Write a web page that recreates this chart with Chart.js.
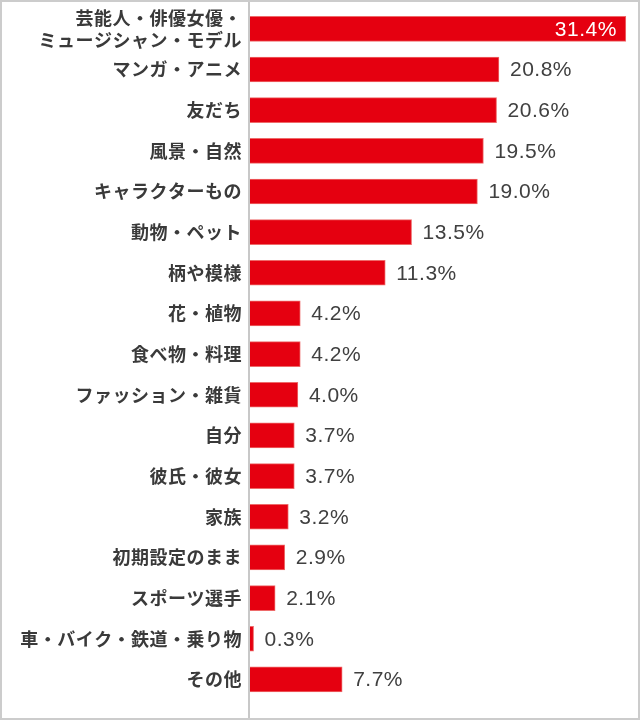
<!DOCTYPE html>
<html><head><meta charset="utf-8">
<script src="https://cdn.jsdelivr.net/npm/chart.js@4"></script>
<style>
html,body{margin:0;padding:0;background:#fff;}
#wrap{width:640px;height:720px;box-sizing:border-box;border:2px solid #cccccc;position:relative;}
canvas{display:block;}
</style></head><body>
<div id="wrap"><canvas id="c" width="636" height="716"></canvas></div>
<script>
const categories = [
  ['芸能人・俳優女優・','ミュージシャン・モデル'],
  'マンガ・アニメ','友だち','風景・自然','キャラクターもの','動物・ペット','柄や模様',
  '花・植物','食べ物・料理','ファッション・雑貨','自分','彼氏・彼女','家族',
  '初期設定のまま','スポーツ選手','車・バイク・鉄道・乗り物','その他'
];
const values = [31.4,20.8,20.6,19.5,19.0,13.5,11.3,4.2,4.2,4.0,3.7,3.7,3.2,2.9,2.1,0.3,7.7];
const valueLabels = values.map(v => v.toFixed(1) + '%');

const spacingPlugin = {
  id:'spacing',
  beforeDraw(chart){ chart.ctx.letterSpacing = '0.5px'; },
  beforeDatasetsDraw(chart){
    const ctx = chart.ctx, ca = chart.chartArea;
    ctx.save();
    ctx.strokeStyle = '#c8c8c8';
    ctx.lineWidth = 2;
    ctx.beginPath();
    ctx.moveTo(ca.left - 1, 0);
    ctx.lineTo(ca.left - 1, chart.height);
    ctx.stroke();
    ctx.restore();
  },
  afterDatasetsDraw(chart){
    const ctx = chart.ctx;
    const meta = chart.getDatasetMeta(0);
    ctx.save();
    ctx.letterSpacing = '0.5px';
    ctx.font = '21px "Liberation Sans", Arial, sans-serif';
    ctx.textBaseline = 'middle';
    meta.data.forEach((bar, i) => {
      const txt = valueLabels[i];
      if (i === 0) {
        ctx.fillStyle = '#ffffff';
        ctx.textAlign = 'right';
        ctx.fillText(txt, bar.x - 9, bar.y + 1);
      } else {
        ctx.fillStyle = '#404040';
        ctx.textAlign = 'left';
        ctx.fillText(txt, bar.x + 11, bar.y + 1);
      }
    });
    ctx.restore();
  }
};

new Chart(document.getElementById('c'), {
  type:'bar',
  data:{ labels:categories, datasets:[{ data:values, backgroundColor:'#e50010', borderColor:'#ee6a6a', borderWidth:{top:1,right:1,bottom:1,left:0}, borderSkipped:'left', barThickness:25 }] },
  options:{
    indexAxis:'y', responsive:false, animation:false,
    layout:{ padding:{ top:6.5, bottom:18.3, right:5, left:0 } },
    plugins:{ legend:{display:false}, tooltip:{enabled:false} },
    scales:{
      x:{ display:false, min:0, max:32 },
      y:{
        grid:{ display:false, drawTicks:false },
        border:{ display:false },
        ticks:{ autoSkip:false, color:'#3a3a3a', padding:8, font:{ family:'"Noto Sans CJK JP", sans-serif', size:18, weight:'bold', lineHeight:1.22 } },
        afterFit(s){ s.width = 248; s.paddingTop = 0; s.paddingBottom = 0; }
      }
    }
  },
  plugins:[spacingPlugin]
});
</script></body></html>
